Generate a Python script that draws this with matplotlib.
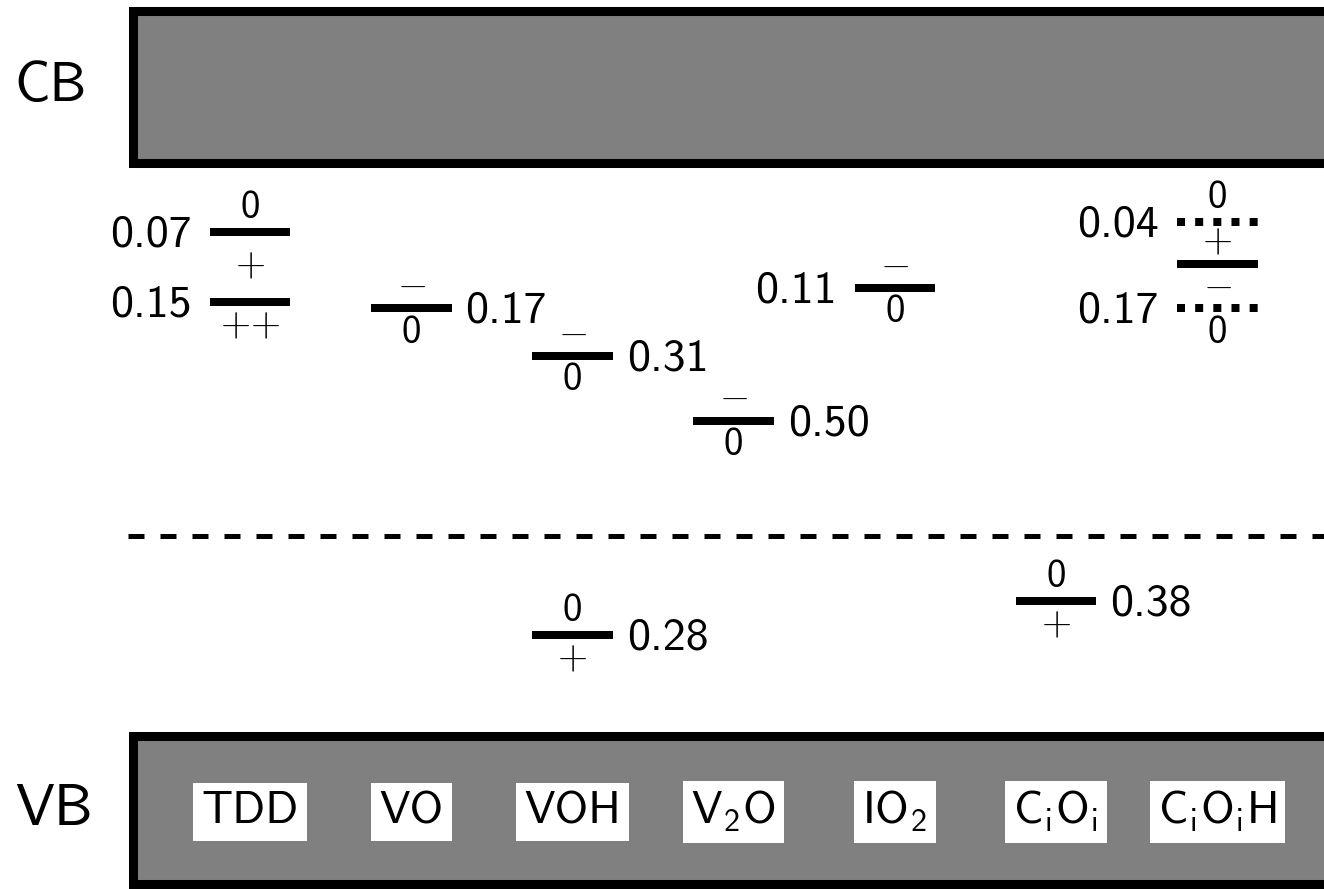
import matplotlib
matplotlib.use('Agg')
import matplotlib.pyplot as plt
from matplotlib.patches import Rectangle

plt.rcParams['font.family'] = 'cmss10'
plt.rcParams['mathtext.fontset'] = 'custom'
plt.rcParams['mathtext.rm'] = 'cmss10'
plt.rcParams['mathtext.it'] = 'cmss10'
plt.rcParams['mathtext.sf'] = 'cmss10'
plt.rcParams['axes.unicode_minus'] = False

# defects along x
defect_names = ['TDD', 'VO', 'VOH', r'V$_2$O', r'IO$_2$', r'C$_\mathrm{i}$O$_\mathrm{i}$', r'C$_\mathrm{i}$O$_\mathrm{i}$H']

# levels: defect index, band they are measured from, drawn distance from band edge (eV)
level_defect = [0, 0, 1, 2, 3, 4, 6, 6, 6, 2, 5]
level_band = ['CB', 'CB', 'CB', 'CB', 'CB', 'CB', 'CB', 'CB', 'CB', 'VB', 'VB']
level_pos = [-0.055, 0.15, 0.17, 0.31, 0.50, 0.11, -0.085, 0.04, 0.17, 0.28, 0.38]
level_text = ['0.07', '0.15', '0.17', '0.31', '0.50', '0.11', '0.04', '', '0.17', '0.28', '0.38']
level_side = ['L', 'L', 'R', 'R', 'R', 'L', 'L', '', 'L', 'R', 'R']
level_dotted = [False, False, False, False, False, False, True, False, True, False, False]

# charge states for each (defect, band) group, top to bottom
group_key = [(0, 'CB'), (1, 'CB'), (2, 'CB'), (3, 'CB'), (4, 'CB'), (6, 'CB'), (2, 'VB'), (5, 'VB')]
group_charges = [['0', '+', '{+}{+}'], ['-', '0'], ['-', '0'], ['-', '0'], ['-', '0'],
                 ['0', '+', '-', '0'], ['0', '+'], ['0', '+']]

Ec = 1.41
Ev = 0.0
midgap = 0.57

fig = plt.figure(figsize=(13.24, 8.89), dpi=100)
ax = fig.add_axes([0, 0, 1, 1])
ax.set_xlim(-1.551, 6.662)
ax.set_ylim(-0.468, 2.147)
ax.axis('off')

px_x = 1 / 161.2   # data units per pixel
px_y = 1 / 340.0

# bands
ax.add_patch(Rectangle((-0.729, 1.669), 9, 2.116 - 1.669, facecolor='#808080', edgecolor='black', lw=6.5))
ax.add_patch(Rectangle((-0.729, -0.453), 9, 0.435, facecolor='#808080', edgecolor='black', lw=6.5))
ax.text(-1.46, 1.89, 'CB', fontsize=40, ha='left', va='center')
ax.text(-1.46, -0.236, 'VB', fontsize=42, ha='left', va='center')

ax.plot([-0.757, 7], [midgap, midgap], color='black', lw=3.6, linestyle=(0, (3.2, 3.2)),
        dash_capstyle='butt')

half = 0.25
energies = []
for i in range(len(level_pos)):
    x = level_defect[i]
    if level_band[i] == 'CB':
        e = Ec - level_pos[i]
    else:
        e = Ev + level_pos[i]
    energies.append(e)
    if level_dotted[i]:
        ax.plot([x - half, x + half], [e, e], color='black', lw=5.76,
                linestyle=(0, (1, 1.27)), dash_capstyle='butt')
    else:
        ax.plot([x - half, x + half], [e, e], color='black', lw=5.76, solid_capstyle='butt')
    if level_side[i] == 'L':
        ax.text(x - half - 18 * px_x, e - 3 * px_y, level_text[i], fontsize=33, ha='right', va='center')
    elif level_side[i] == 'R':
        ax.text(x + half + 14 * px_x, e - 3 * px_y, level_text[i], fontsize=33, ha='left', va='center')

def charge_text(x, y, s):
    if s == '0':
        ax.text(x, y, '0', fontsize=28, ha='center', va='center')
    else:
        ax.text(x, y, '$' + s + '$', fontsize=28, ha='center', va='center', math_fontfamily='cm')

for (d, band), charges in zip(group_key, group_charges):
    es = sorted([energies[i] for i in range(len(level_pos))
                 if level_defect[i] == d and level_band[i] == band], reverse=True)
    charge_text(d, es[0] + 23 * px_y, charges[0])
    for k in range(1, len(es)):
        charge_text(d, (es[k - 1] + es[k]) / 2, charges[k])
    charge_text(d, es[-1] - 25 * px_y, charges[-1])

for i, name in enumerate(defect_names):
    ax.text(i, -0.241, name, fontsize=33, ha='center', va='center',
            bbox=dict(boxstyle='square,pad=0.18', facecolor='white', edgecolor='none'))

fig.savefig('out.png', dpi=100)
